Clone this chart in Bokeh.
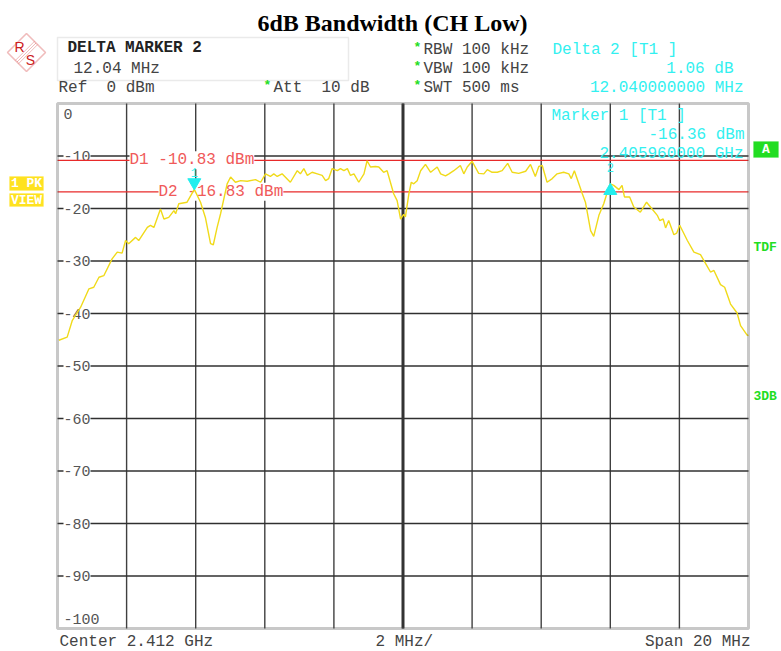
from bokeh.plotting import figure
from bokeh.models import Label, PolyAnnotation, BoxAnnotation, Range1d
from bokeh.embed import file_html
from bokeh.resources import INLINE
from bokeh.core.properties import value

# ---------------- data ----------------
center_mhz = 2412.0
span_mhz = 20.0
freq_offset_mhz = [
    -9.96, -9.72, -9.57, -9.33, -9.09, -8.95, -8.80, -8.66, -8.42, -8.27,
    -8.13, -8.03, -7.94, -7.74, -7.65, -7.40, -7.31, -7.21, -7.02, -6.92,
    -6.78, -6.63, -6.58, -6.49, -6.25, -6.04, -5.86, -5.72, -5.57, -5.49,
    -5.38, -5.28, -5.09, -4.99, -4.85, -4.70, -4.51, -4.27, -4.12, -3.98,
    -3.84, -3.74, -3.64, -3.50, -3.26, -3.06, -2.97, -2.87, -2.77, -2.63,
    -2.48, -2.34, -2.24, -2.15, -2.05, -1.90, -1.81, -1.71, -1.61, -1.52,
    -1.42, -1.28, -1.13, -1.04, -0.94, -0.80, -0.70, -0.56, -0.46, -0.27,
    -0.17, -0.07, 0.02, 0.07, 0.17, 0.24, 0.31, 0.41, 0.51, 0.65,
    0.80, 0.99, 1.09, 1.23, 1.33, 1.47, 1.66, 1.76, 1.86, 2.00,
    2.19, 2.34, 2.44, 2.58, 2.73, 2.87, 3.03, 3.16, 3.35, 3.55,
    3.69, 3.83, 3.93, 4.03, 4.17, 4.32, 4.46, 4.65, 4.80, 4.87,
    4.96, 5.19, 5.28, 5.43, 5.52, 5.67, 5.81, 5.96, 6.00, 6.10,
    6.25, 6.34, 6.41, 6.56, 6.68, 6.87, 7.05, 7.21, 7.36, 7.43,
    7.53, 7.60, 7.69, 7.84, 7.92, 8.01, 8.23, 8.42, 8.61, 8.76,
    8.90, 9.00, 9.19, 9.31, 9.48, 9.67, 9.77, 9.96, 10.00,
]
level_dbm = [
    -45.1, -44.5, -41.3, -38.8, -35.3, -35.0, -33.1, -32.8, -29.6, -28.3,
    -28.5, -26.1, -26.7, -25.5, -26.1, -23.6, -23.2, -23.6, -20.1, -22.0,
    -21.7, -20.4, -21.0, -19.1, -18.8, -16.36, -18.8, -21.7, -26.7, -26.9,
    -23.6, -21.0, -15.3, -14.0, -15.0, -14.7, -14.8, -14.5, -15.0, -13.4,
    -13.9, -13.4, -13.9, -13.4, -15.0, -12.8, -13.4, -12.4, -13.7, -13.1,
    -13.4, -13.7, -14.7, -14.3, -12.4, -12.8, -12.4, -12.8, -12.4, -13.7,
    -13.4, -15.0, -13.4, -10.9, -12.1, -12.0, -12.1, -13.1, -12.8, -17.2,
    -18.5, -22.0, -21.1, -21.6, -17.2, -15.0, -15.3, -14.7, -12.8, -11.6,
    -13.1, -12.1, -13.4, -13.8, -13.4, -12.8, -11.8, -13.4, -12.1, -11.0,
    -13.3, -13.4, -12.6, -13.1, -13.1, -12.8, -11.4, -13.1, -13.3, -12.9,
    -11.6, -13.9, -12.0, -11.8, -15.0, -14.3, -13.4, -13.1, -13.4, -14.3,
    -12.8, -17.2, -18.8, -24.2, -25.3, -21.3, -19.1, -15.9, -15.3, -15.6,
    -16.4, -15.6, -17.8, -17.8, -19.7, -20.7, -18.8, -20.1, -21.3, -22.3,
    -22.0, -23.7, -22.3, -25.0, -24.7, -23.2, -26.1, -28.3, -28.8, -30.5,
    -32.1, -31.8, -34.5, -35.0, -38.2, -39.9, -42.3, -44.1, -44.2,
]
ref_level_dbm = 0
y_ticks = [0, -10, -20, -30, -40, -50, -60, -70, -80, -90, -100]
d1_level = -10.83
d2_level = -16.83
m1_freq_mhz = 2405.96
m1_level = -16.36
m2_delta_mhz = 12.04
m2_delta_db = 1.06

freqs = [center_mhz + f for f in freq_offset_mhz]
f_start = center_mhz - span_mhz / 2
f_stop = center_mhz + span_mhz / 2
y_top, y_bot = y_ticks[0], y_ticks[-1]
x_grid = [f_start + 2 * k for k in range(1, 10)]
m2_freq_mhz = m1_freq_mhz + m2_delta_mhz
m2_level = m1_level + m2_delta_db

# ---------------- layout ----------------
W, H = 781, 651
# pixel box of the measurement grid on the canvas
GL, GR, GT, GB = 57, 748, 103, 628
mhz_px = (f_stop - f_start) / (GR - GL)
db_px = (y_top - y_bot) / (GB - GT)

MONO = "Liberation Mono"
GRAY = "#444444"
CYAN = "#33F0F0"
RED_T = "#F05A5A"
RED_L = "#E82A2A"
GREEN = "#22DD22"
YEL = "#FFE21F"
NB = "\u00a0"

p = figure(width=W, height=H, output_backend="svg", toolbar_location=None,
           x_range=Range1d(f_start - GL * mhz_px, f_stop + (W - GR) * mhz_px),
           y_range=Range1d(y_bot - (H - GB) * db_px, y_top + GT * db_px),
           x_axis_location=None, y_axis_location=None, title=None,
           min_border=0)
p.background_fill_color = "white"
p.border_fill_color = "white"
p.outline_line_color = None
p.xgrid.visible = False
p.ygrid.visible = False

# graticule
p.segment(x0=x_grid, y0=[y_bot] * len(x_grid), x1=x_grid, y1=[y_top] * len(x_grid),
          line_color="#404040", line_width=1.4)
h_lines = y_ticks[1:-1]
p.segment(x0=[f_start] * len(h_lines), y0=h_lines, x1=[f_stop] * len(h_lines), y1=h_lines,
          line_color="#303030", line_width=1.3)
p.segment(x0=[center_mhz], y0=[y_bot], x1=[center_mhz], y1=[y_top],
          line_color="#333333", line_width=3)

# y tick labels inside the grid (white box breaks the grid line)
tick_x = f_start + 6 * mhz_px
for t in y_ticks:
    off = 10 if t == y_top else (-10 if t == y_bot else 0)
    p.text([tick_x], [t], text=[f"{t}"], y_offset=off, text_align="left",
           text_baseline="middle", text_color="#555555", text_font=value(MONO),
           text_font_size="15px", background_fill_color="white")

# display lines and their labels
p.segment(x0=[f_start, f_start], y0=[d1_level, d2_level],
          x1=[f_stop, f_stop], y1=[d1_level, d2_level],
          line_color=RED_L, line_width=1.4)
p.text([f_start + 72 * mhz_px, f_start + 101 * mhz_px], [d1_level, d2_level],
       text=[f"D1 {d1_level:.2f} dBm", f"D2 {d2_level:.2f} dBm"],
       text_align="left", text_baseline="middle", text_color=RED_T,
       text_font=value(MONO), text_font_size="16px", background_fill_color="white")

# trace
p.line(freqs, level_dbm, line_color="#F0DA1A", line_width=1.4)

# frame
p.add_layout(BoxAnnotation(left=f_start, right=f_stop, bottom=y_bot, top=y_top,
                           fill_alpha=0, line_color="#4a4a4a", line_width=3))

# markers
p.scatter([m1_freq_mhz], [m1_level + 6.9 * db_px], marker="inverted_triangle",
          size=13, color="#22EEEE")
p.scatter([m2_freq_mhz], [m2_level - 6.9 * db_px], marker="triangle",
          size=13, color="#22EEEE")
p.text([m1_freq_mhz], [m1_level], text=["1"], y_offset=-17,
       text_align="center", text_baseline="middle", text_color=CYAN,
       text_font=value(MONO), text_font_size="12px")
p.text([m2_freq_mhz], [m2_level], text=["2"], y_offset=-16,
       text_align="center", text_baseline="middle", text_color=CYAN,
       text_font=value(MONO), text_font_size="12px")


def lab(px, py, text, color=GRAY, size=16, bold=False, align="left",
        font=MONO, baseline="middle"):
    p.add_layout(Label(x=px, y=H - py, x_units="screen", y_units="screen",
                       text=text.replace(" ", NB), text_color=color, text_font=font,
                       text_font_size=f"{size}px",
                       text_font_style="bold" if bold else "normal",
                       text_align=align, text_baseline=baseline))


def poly(pts, line=None, fill=None, lw=1.5):
    p.add_layout(PolyAnnotation(xs=[x for x, _ in pts], ys=[H - y for _, y in pts],
                                xs_units="screen", ys_units="screen",
                                line_color=line, line_width=lw,
                                fill_color=fill, fill_alpha=1.0 if fill else 0.0))


# title
lab(392, 22, "6dB Bandwidth (CH Low)", color="black", size=24, bold=True,
    align="center", font="Liberation Serif")

# logo
cx, cy, r = 26, 52, 19
poly([(cx, cy - r), (cx + r, cy), (cx, cy + r), (cx - r, cy)], line="#CC2020", lw=1.6)
for d in (-1.6, 0, 1.6):
    poly([(cx + 9.5 + d, cy - 9.5 + d), (cx - 9.5 + d, cy + 9.5 + d)], line="#CC2020", lw=1.0)
lab(19, 46, "R", color="#CC2020", size=14, align="center", font="Liberation Sans")
lab(30, 59, "S", color="#CC2020", size=14, align="center", font="Liberation Sans")

# info box
poly([(57, 37), (348, 37), (348, 80), (57, 80)], line="#BBBBBB", lw=1.5)
lab(67, 47, "DELTA MARKER 2", color="#222222", bold=True)
lab(73, 68, f"{m2_delta_mhz:.2f} MHz")
lab(58, 87, f"Ref  {ref_level_dbm} dBm")
lab(263, 85, "*", color=GREEN, size=13, bold=True)
lab(273, 87, "Att  10 dB")
for yy, txt in ((49, "RBW 100 kHz"), (68, "VBW 100 kHz"), (87, "SWT 500 ms")):
    lab(413, yy - 2, "*", color=GREEN, size=13, bold=True)
    lab(423, yy, txt)
lab(552, 49, "Delta 2 [T1 ]", color=CYAN)
lab(733, 68, f"{m2_delta_db:.2f} dB", color=CYAN, align="right")
lab(743, 87, f"{m2_delta_mhz:.9f} MHz", color=CYAN, align="right")

# marker readout inside the grid
lab(551, 115, "Marker 1 [T1 ]", color=CYAN)
lab(744, 134, f"{m1_level:.2f} dBm", color=CYAN, align="right")
lab(743, 153, f"{m1_freq_mhz / 1000:.9f} GHz", color=CYAN, align="right")

# left badges
poly([(9, 176), (43, 176), (43, 190), (9, 190)], fill=YEL, line=YEL, lw=0.5)
poly([(9, 193), (43, 193), (43, 206), (9, 206)], fill=YEL, line=YEL, lw=0.5)
lab(26, 183, "1 PK", color="white", size=13, bold=True, align="center")
lab(26, 200, "VIEW", color="white", size=13, bold=True, align="center")

# right side
poly([(753, 141), (778, 141), (778, 157), (753, 157)], fill=GREEN, line=GREEN, lw=0.5)
lab(765.5, 149, "A", color="white", size=13, bold=True, align="center")
lab(753, 247, "TDF", color=GREEN, size=13, bold=True)
lab(753, 396, "3DB", color=GREEN, size=13, bold=True)

# bottom
lab(59, 641, f"Center {center_mhz / 1000:.3f} GHz")
lab(375, 641, "2 MHz/")
lab(750, 641, f"Span {span_mhz:.0f} MHz", align="right")

open("out.html", "w").write(file_html(p, INLINE))
